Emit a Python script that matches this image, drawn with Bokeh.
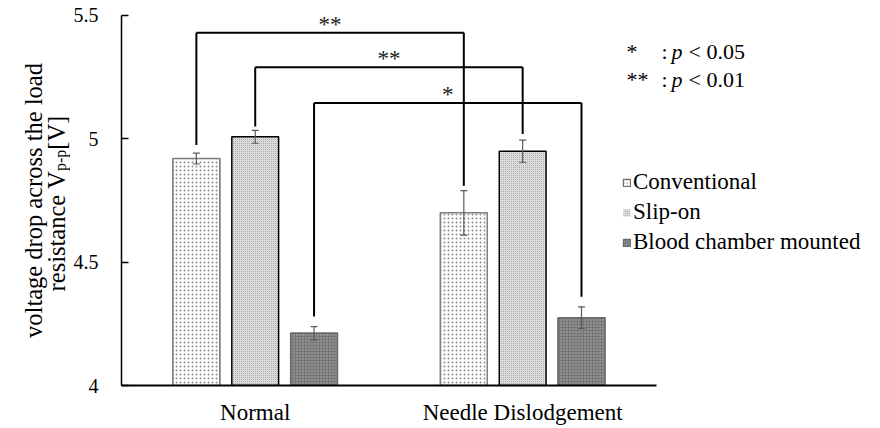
import math
from bokeh.plotting import figure
from bokeh.layouts import row
from bokeh.models import (ColumnDataSource, Range1d, FixedTicker, NumeralTickFormatter,
                          CustomJSTickFormatter, Legend, LegendItem, Label, LabelSet)
from bokeh.core.properties import value
from bokeh.embed import file_html
from bokeh.resources import INLINE

# ---------------- data ----------------
categories = ["Normal", "Needle Dislodgement"]
series = ["Conventional", "Slip-on", "Blood chamber mounted"]
conventional = [4.92, 4.70]
conventional_err = [0.022, 0.09]
slip_on = [5.008, 4.95]
slip_on_err = [0.026, 0.045]
blood_chamber = [4.212, 4.275]
blood_chamber_err = [0.027, 0.044]
y_ticks = [4, 4.5, 5, 5.5]

# significance brackets: one per series, Normal vs Needle Dislodgement
bracket_top = [5.43, 5.29, 5.145]
bracket_left_end = [4.975, 5.05, 4.28]
bracket_right_end = [4.81, 5.02, 4.36]
bracket_marks = ["**", "**", "*"]
sig_keys = ["*", "**"]
sig_levels = ["< 0.05", "< 0.01"]

y_title_1 = "voltage drop across the load"
y_title_2 = ["resistance V", "p-p", " [V]"]

# ---------------- layout / styles ----------------
SERIF = "Liberation Serif"
TOTAL_W, H = 880, 428
LEFT_W = 70                 # strip holding the rotated y-axis title
MAIN_W = TOTAL_W - LEFT_W
FRAME_LEFT = 118 - LEFT_W   # border before the main frame
FRAME_BOTTOM = 43
CAT_PX = 268.5              # pixels per category slot
Y_PX = 246.67               # pixels per volt
offsets = [-0.22, 0.0, 0.22]
bar_w = 0.175
bar_styles = [
    dict(fill_color="#ffffff", hatch_pattern="dot", hatch_color="#8c8c8c", hatch_scale=4.0,
         hatch_weight=1.0, line_color="#7f7f7f", line_width=1.5),
    dict(fill_color="#dcdcdc", hatch_pattern="dot", hatch_color="#9a9a9a", hatch_scale=2.0,
         hatch_weight=1.0, line_color="#000000", line_width=1.5),
    dict(fill_color="#767676", hatch_pattern="dot", hatch_color="#b8b8b8", hatch_scale=3.0,
         hatch_weight=1.2, line_color="#6a6a6a", line_width=1.5),
]
legend_styles = [
    dict(fill_color="#ffffff", hatch_pattern="dot", hatch_color="#8c8c8c", hatch_scale=3.0,
         hatch_weight=1.0, line_color="#6f6f6f", line_width=1.2),
    dict(fill_color="#d8d8d8", hatch_pattern="dot", hatch_color="#a8a8a8", hatch_scale=2.0,
         hatch_weight=1.0, line_color=None),
    dict(fill_color="#767676", hatch_pattern="dot", hatch_color="#b0b0b0", hatch_scale=2.5,
         hatch_weight=1.0, line_color="#6a6a6a", line_width=1.2),
]

frame_w = MAIN_W - FRAME_LEFT
frame_h = H - FRAME_BOTTOM
x_end = frame_w / CAT_PX
y_end = y_ticks[0] + frame_h / Y_PX

p = figure(x_range=Range1d(0, x_end), y_range=Range1d(y_ticks[0], y_end),
           width=MAIN_W, height=H, output_backend="svg", toolbar_location=None,
           min_border_left=FRAME_LEFT, min_border_right=0, min_border_top=0,
           min_border_bottom=FRAME_BOTTOM)
p.outline_line_color = None
p.xgrid.visible = False
p.ygrid.visible = False
p.background_fill_color = "white"
p.border_fill_color = "white"

# y axis
p.yaxis.ticker = FixedTicker(ticks=y_ticks)
p.yaxis.bounds = (y_ticks[0], y_ticks[-1])
p.yaxis.formatter = NumeralTickFormatter(format="0.[0]")
p.yaxis.major_tick_in = 7
p.yaxis.major_tick_out = 0
p.yaxis.minor_tick_line_color = None
p.yaxis.axis_line_color = "black"
p.yaxis.axis_line_width = 1.5
p.yaxis.major_tick_line_width = 1.5
p.yaxis.major_label_standoff = 23
p.yaxis.major_label_text_font = SERIF
p.yaxis.major_label_text_font_size = "20px"
p.yaxis.major_label_text_color = "black"

# category x axis
cat_pos = [i + 0.5 for i in range(len(categories))]
p.xaxis.ticker = FixedTicker(ticks=cat_pos)
p.xaxis.bounds = (0, len(categories))
p.xaxis.formatter = CustomJSTickFormatter(args=dict(cats=categories),
                                          code="return cats[Math.floor(tick)];")
p.xaxis.major_tick_line_color = None
p.xaxis.minor_tick_line_color = None
p.xaxis.axis_line_color = "black"
p.xaxis.axis_line_width = 2
p.xaxis.major_label_standoff = 8
p.xaxis.major_label_text_font = SERIF
p.xaxis.major_label_text_font_size = "23px"
p.xaxis.major_label_text_color = "black"

# bars and error bars
values_list = [conventional, slip_on, blood_chamber]
errs_list = [conventional_err, slip_on_err, blood_chamber_err]
legend_items = []
for name, vals, errs, off, st, lst in zip(series, values_list, errs_list, offsets,
                                          bar_styles, legend_styles):
    xs = [c + off for c in cat_pos]
    src = ColumnDataSource(dict(x=xs, top=vals,
                                upper=[v + e for v, e in zip(vals, errs)],
                                lower=[v - e for v, e in zip(vals, errs)],
                                cl=[x - 0.013 for x in xs], cr=[x + 0.013 for x in xs]))
    # legend swatch renderer: drawn first, fully covered by the real bars below
    proxy = p.vbar(x="x", top="top", bottom=y_ticks[0], width=bar_w, source=src, **lst)
    legend_items.append(LegendItem(label=name, renderers=[proxy]))
    p.vbar(x="x", top="top", bottom=y_ticks[0], width=bar_w, source=src, **st)
    p.segment(x0="x", x1="x", y0="lower", y1="upper", source=src,
              line_color="#595959", line_width=1.2)
    for yk in ("lower", "upper"):
        p.segment(x0="cl", x1="cr", y0=yk, y1=yk, source=src,
                  line_color="#595959", line_width=1.2)

# significance brackets
bx0 = [cat_pos[0] + off for off in offsets]
bx1 = [cat_pos[1] + off for off in offsets]
bsrc = ColumnDataSource(dict(x0=bx0, x1=bx1, mid=[(a + b) / 2 for a, b in zip(bx0, bx1)],
                             top=bracket_top, le=bracket_left_end, re=bracket_right_end,
                             mark=bracket_marks))
p.segment(x0="x0", x1="x1", y0="top", y1="top", source=bsrc, line_color="black", line_width=2)
p.segment(x0="x0", x1="x0", y0="le", y1="top", source=bsrc, line_color="black", line_width=2)
p.segment(x0="x1", x1="x1", y0="re", y1="top", source=bsrc, line_color="black", line_width=2)
p.add_layout(LabelSet(x="mid", y="top", text="mark", source=bsrc, text_align="center",
                      text_baseline="alphabetic", y_offset=1, text_font=value(SERIF),
                      text_font_size="23px", text_color="#1a1a1a"))

# series legend (frame-relative screen units)
legend = Legend(items=legend_items, location=(501, 128), orientation="vertical",
                border_line_color=None, background_fill_alpha=0, padding=0, margin=0,
                spacing=0, glyph_width=9, glyph_height=9, label_standoff=2,
                label_height=30, label_text_font=SERIF, label_text_font_size="23px",
                label_text_color="black", label_text_baseline="middle")
p.add_layout(legend)

# significance key
for j, (k, lvl) in enumerate(zip(sig_keys, sig_levels)):
    yb = 334 - 28 * j
    common = dict(x_units="screen", y_units="screen", text_font=SERIF, text_font_size="22px",
                  text_color="black", text_baseline="alphabetic")
    p.add_layout(Label(x=505, y=yb, text=k, **common))
    p.add_layout(Label(x=540, y=yb, text=":", **common))
    p.add_layout(Label(x=550, y=yb, text="p", text_font_style="italic", **common))
    p.add_layout(Label(x=567, y=yb, text=lvl, **common))

# ---------------- left strip: rotated y-axis title ----------------
t = figure(x_range=Range1d(0, 1), y_range=Range1d(0, 1), width=LEFT_W, height=H,
           output_backend="svg", toolbar_location=None, x_axis_type=None, y_axis_type=None,
           min_border_left=0, min_border_right=0, min_border_top=0,
           min_border_bottom=FRAME_BOTTOM)
t.outline_line_color = None
t.xgrid.visible = False
t.ygrid.visible = False
t.border_fill_color = "white"

F = 24.5
adv = {"r": .333, "e": .444, "s": .389, "i": .278, "t": .278, "a": .444, "n": .5, "c": .444,
       " ": .25, "V": .722, "p": .5, "-": .333, "[": .333, "]": .333}
def text_width(txt, size):
    return sum(adv.get(ch, .5) for ch in txt) * size
SUB = F * 0.65
w1 = text_width(y_title_2[0], F)
w2 = text_width(y_title_2[1], SUB)
w3 = text_width(y_title_2[2], F)
center_y = (H - FRAME_BOTTOM) - 200     # measured from the strip frame's bottom edge
start = center_y - (w1 + w2 + w3) / 2
rot = dict(x_units="screen", y_units="screen", angle=math.pi / 2, text_font=SERIF,
           text_color="black", text_baseline="alphabetic")
t.add_layout(Label(x=33, y=center_y, text=y_title_1, text_align="center",
                   text_font_size=f"{F}px", **rot))
t.add_layout(Label(x=56, y=start, text=y_title_2[0], text_align="left",
                   text_font_size=f"{F}px", **rot))
t.add_layout(Label(x=59.5, y=start + w1, text=y_title_2[1], text_align="left",
                   text_font_size=f"{SUB:.2f}px", **rot))
t.add_layout(Label(x=56, y=start + w1 + w2, text=y_title_2[2], text_align="left",
                   text_font_size=f"{F}px", **rot))

layout = row(t, p, spacing=0)
open("out.html", "w").write(file_html(layout, INLINE))
